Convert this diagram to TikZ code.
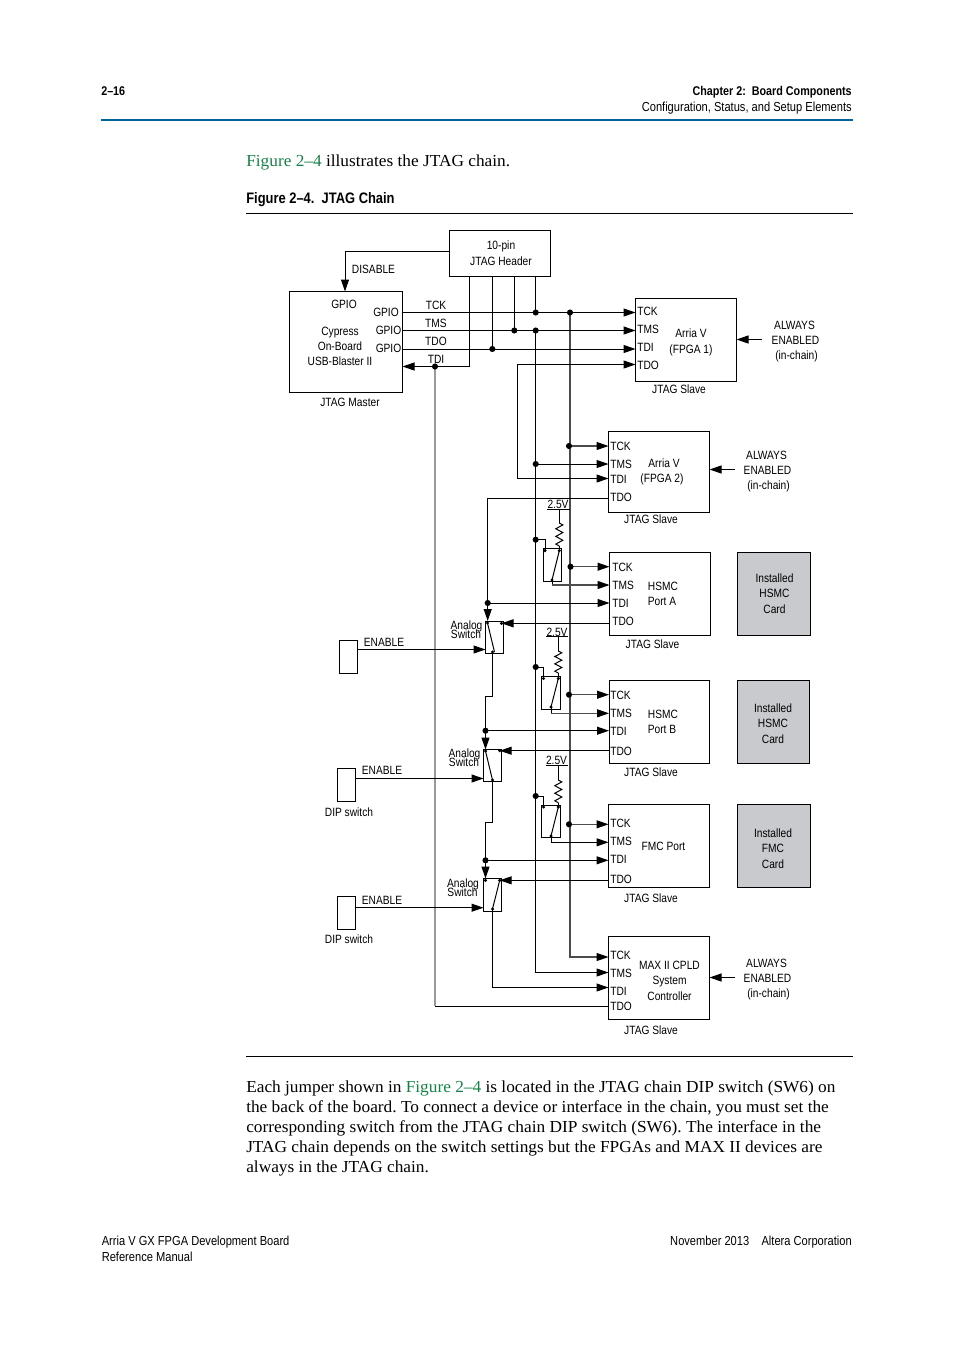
\documentclass[tikz,border=0pt]{standalone}
\usepackage{fontspec}
\setmainfont[FakeStretch=1.03]{Liberation Serif}
\setsansfont[FakeStretch=0.85]{Liberation Sans}
\usetikzlibrary{arrows.meta}
\definecolor{altblue}{RGB}{0,98,155}
\definecolor{altgreen}{RGB}{20,130,70}
\definecolor{cardgray}{RGB}{200,202,206}
\newcount\tcnt
\newcommand{\lb}[3]{\global\advance\tcnt by 1 \node[lab] (t\the\tcnt) at (#1,#2) {#3};}
\newcommand{\lbw}[3]{\global\advance\tcnt by 1 \node[lab,anchor=base west] (t\the\tcnt) at (#1,#2) {#3};}
\newcommand{\fw}[3]{\global\advance\tcnt by 1 \node[lab,anchor=base west,font=\sffamily\fontsize{9.8}{9.8}\selectfont] (t\the\tcnt) at (#1,#2) {#3};}
\newcommand{\fe}[3]{\global\advance\tcnt by 1 \node[lab,anchor=base east,font=\sffamily\fontsize{9.8}{9.8}\selectfont] (t\the\tcnt) at (#1,#2) {#3};}
\newcommand{\pg}[3]{\global\advance\tcnt by 1 \node[para] (t\the\tcnt) at (#1,#2) {\frenchspacing #3};}
\newcommand{\gbox}[6]{% style name x1 y1 x2 y2
  \pgfmathsetmacro{\bxw}{(#5-#3)*0.75}\pgfmathsetmacro{\bxh}{(#6-#4)*0.75}
  \node[#1,minimum width=\bxw pt,minimum height=\bxh pt] (#2) at ({(#3+#5)/2},{(#4+#6)/2}) {};}
\newcommand{\resist}[3]{% x y1 y2
  \pgfmathsetmacro{\zst}{(#3-#2)/6}
  \draw[wire] (#1,#2) -- ++(3.5,{0.5*\zst}) -- ++(-7,\zst) -- ++(7,\zst) -- ++(-7,\zst) -- ++(7,\zst) -- ++(-7,\zst) -- (#1,#3);}
\newcommand{\grn}[1]{\textcolor{altgreen}{#1}}
\tikzset{
  x=0.75pt,y=-0.75pt,
  lab/.style={font=\sffamily\fontsize{9}{9}\selectfont,inner sep=0pt,anchor=base},
  para/.style={font=\rmfamily\fontsize{12.6}{15}\selectfont,inner sep=0pt,anchor=base west},
  box/.style={draw=black,line width=0.75pt,inner sep=0pt,outer sep=0pt,fill=white},
  card/.style={box,fill=cardgray},
  wire/.style={line width=0.75pt,draw=black},
  gwire/.style={line width=0.8pt,draw=black!70},
  tdiw/.style={line width=1.6pt,draw=black!40},
  arr/.style={wire,-{Triangle[length=9pt,width=6pt,color=black]}},
  garr/.style={gwire,-{Triangle[length=9pt,width=6pt,color=black]}},
  jd/.style={circle,fill=black,inner sep=0pt,minimum size=4.6pt},
  sd/.style={circle,fill=black,inner sep=0pt,minimum size=2.6pt},
}
\begin{document}
\begin{tikzpicture}
\useasboundingbox (0,0) rectangle (954,1350);
% page furniture
\node[lab,anchor=base west,font=\sffamily\bfseries\fontsize{9.5}{9.5}\selectfont] (pageno) at (101,95) {2–16};
\node[lab,anchor=base east,font=\sffamily\bfseries\fontsize{9.5}{9.5}\selectfont] (chap) at (852,95) {Chapter 2:\ \ Board Components};
\fe{852}{111}{Configuration, Status, and Setup Elements}
\coordinate (rl) at (101,120); \coordinate (rr) at (853,120);
\draw[altblue,line width=1.5pt] (rl) -- (rr);
\pg{246}{166}{\grn{Figure 2–4} illustrates the JTAG chain.}
\node[lab,anchor=base west,font=\sffamily\bfseries\fontsize{11.4}{11.4}\selectfont] (figt) at (246,203) {Figure 2–4.\ \ JTAG Chain};
\coordinate (r2l) at (246,213.5); \coordinate (r2r) at (853,213.5);
\draw[wire] (r2l) -- (r2r);
\coordinate (r3l) at (246,1056.5); \coordinate (r3r) at (853,1056.5);
\draw[wire] (r3l) -- (r3r);
\pg{246}{1092}{Each jumper shown in \grn{Figure 2–4} is located in the JTAG chain DIP switch (SW6) on}
\pg{246}{1112}{the back of the board. To connect a device or interface in the chain, you must set the}
\pg{246}{1132}{corresponding switch from the JTAG chain DIP switch (SW6). The interface in the}
\pg{246}{1152}{JTAG chain depends on the switch settings but the FPGAs and MAX II devices are}
\pg{246}{1172}{always in the JTAG chain.}
\fw{101.5}{1245}{Arria V GX FPGA Development Board}
\fw{101.5}{1261}{Reference Manual}
\fe{852}{1245}{November 2013\ \ \ \ Altera Corporation}
% boxes
\gbox{box}{hdr}{449.5}{230.5}{550.5}{276.5}
\gbox{box}{mst}{289.5}{291.5}{402.5}{392.5}
\gbox{box}{s1}{635.5}{298.5}{736.5}{381.5}
\gbox{box}{s2}{608.5}{431.5}{709.5}{512}
\gbox{box}{s3}{609.5}{552.5}{710.5}{635.5}
\gbox{box}{s4}{609}{680.5}{709.5}{763.5}
\gbox{box}{s5}{608.5}{804.5}{709.5}{887.5}
\gbox{box}{s6}{608.5}{936.5}{709.5}{1019.5}
\gbox{card}{c3}{737.5}{552.5}{810.5}{635.5}
\gbox{card}{c4}{737}{680.5}{809.5}{763.5}
\gbox{card}{c5}{737}{804.5}{810}{887.5}
\gbox{box}{en1}{339.5}{640.5}{357.5}{673.5}
\gbox{box}{en2}{337.5}{768.5}{355.5}{801.5}
\gbox{box}{en3}{337.5}{896.5}{355.5}{929.5}
\gbox{box}{sa1}{485.5}{621}{503.5}{653.5}
\gbox{box}{sa2}{483.5}{749.5}{501.5}{781}
\gbox{box}{sa3}{483.5}{878.5}{501.5}{911.5}
% key points
\coordinate (tck) at (535.7,312.5);
\coordinate (tcky) at (570,312.5);
\coordinate (tms) at (535.7,330.5);
\coordinate (tmsh) at (514.3,330.5);
\coordinate (tdoh) at (492.3,349);
\coordinate (tdi) at (469.3,366.5);
\coordinate (tdid) at (435,366.5);
\coordinate (hA) at (469.3,276.5); \coordinate (hB) at (492.3,276.5);
\coordinate (hC) at (514.3,276.5); \coordinate (hD) at (535.7,276.5);
\coordinate (dis) at (345,251.5);
% gray buses first
\coordinate (g1b) at (435,1006);
\draw[tdiw] (tdid) -- (g1b);
\coordinate (g2b) at (570,957);
\draw[garr] (tcky) -- (g2b) -- (s6.west |- g2b);
% header
\draw[wire] (hdr.west |- dis) -- (dis);
\draw[arr] (dis) -- (dis |- mst.north);
\draw[wire] (hA) -- (tdi);
\draw[wire] (hB) -- (tdoh);
\draw[wire] (hC) -- (tmsh);
\draw[wire] (hD) -- (tck);
% master lines
\draw[arr] (mst.east |- tck) -- (s1.west |- tck);
\draw[arr] (mst.east |- tms) -- (s1.west |- tms);
\draw[arr] (mst.east |- tdoh) -- (s1.west |- tdoh);
\draw[arr] (tdi) -- (mst.east |- tdi);
% TMS bus
\coordinate (tmsb) at (535.7,972.5);
\draw[arr] (tms) -- (tmsb) -- (s6.west |- tmsb);
% S1 TDO to S2 TDI
\coordinate (a1) at (517.3,364.5); \coordinate (a2) at (517.3,478.5);
\draw[arr] (a2) -- (s2.west |- a2);
\draw[wire] (a2) -- (a1);
\draw[arr] (a1) -- (s1.west |- a1);
% S2
\coordinate (s2tck) at (569,446); \coordinate (s2tms) at (535.7,464);
\draw[garr] (s2tck) -- (s2.west |- s2tck);
\draw[arr] (s2tms) -- (s2.west |- s2tms);
\coordinate (s2tdo) at (487.7,498.5); \coordinate (d3) at (487.7,603);
\draw[wire] (s2.west |- s2tdo) -- (s2tdo) -- (d3);
\draw[arr] (d3) -- (d3 |- sa1.north);
\draw[arr] (d3) -- (s3.west |- d3);
% switch boxes, drawn above the buses
\gbox{box}{sw1}{543.5}{548.5}{561.5}{581.5}
\gbox{box}{sw2}{541.5}{676.5}{560.5}{709.5}
\gbox{box}{sw3}{541.5}{805.5}{560.5}{837.5}
% resistor+switch 1
\coordinate (v1a) at (547,509.5); \coordinate (v1b) at (569.5,509.5);
\draw[wire] (v1a) -- (v1b);
\coordinate (v1s) at (559.3,509.5); \coordinate (v1t) at (559.3,523);
\draw[wire] (v1s) -- (v1t); \resist{559.3}{523}{546}
\coordinate (r1b) at (559.3,546); \coordinate (p1a) at (559.3,550.7);
\draw[wire] (r1b) -- (p1a);
\coordinate (j1) at (535.7,539.7); \coordinate (j1c) at (545,539.7); \coordinate (j1d) at (545,550.7);
\draw[wire] (j1) -- (j1c) -- (j1d);
\coordinate (p1b) at (552,580); \draw[wire] (p1a) -- (p1b);
\coordinate (p1c) at (552,585);
\draw[wire] (p1b) -- (p1c); \draw[garr] (p1c) -- (s3.west |- p1c);
\coordinate (s3tck) at (570.5,566.7);
\draw[garr] (s3tck) -- (s3.west |- s3tck);
\coordinate (s3tdo) at (501.5,623.3);
\draw[arr] (s3.west |- s3tdo) -- (s3tdo);
\coordinate (e1) at (357.5,649.5); \draw[arr] (en1.east |- e1) -- (sa1.west |- e1);
\coordinate (a1a) at (487.5,623); \coordinate (a1b) at (494.5,652);
\draw[wire] (a1a) -- (a1b);
\coordinate (o1a) at (492.5,652); \coordinate (o1b) at (492.5,696); \coordinate (o1c) at (485.5,696); \coordinate (d4) at (485.5,730.7);
\draw[wire] (o1a) -- (o1b) -- (o1c) -- (d4);
\draw[arr] (d4) -- (d4 |- sa2.north);
\draw[arr] (d4) -- (s4.west |- d4);
% resistor+switch 2
\coordinate (v2a) at (546,636.5); \coordinate (v2b) at (568,636.5);
\draw[wire] (v2a) -- (v2b);
\coordinate (v2s) at (558.3,636.5); \coordinate (v2t) at (558.3,651);
\draw[wire] (v2s) -- (v2t); \resist{558.3}{651}{673}
\coordinate (r2b) at (558.3,673); \coordinate (p2a) at (558.3,678.5);
\draw[wire] (r2b) -- (p2a);
\coordinate (j2) at (535.7,667); \coordinate (j2c) at (543.5,667); \coordinate (j2d) at (543.5,678.5);
\draw[wire] (j2) -- (j2c) -- (j2d);
\coordinate (p2b) at (551,707); \draw[wire] (p2a) -- (p2b);
\coordinate (p2c) at (551,713.3);
\draw[wire] (p2b) -- (p2c); \draw[garr] (p2c) -- (s4.west |- p2c);
\coordinate (s4tck) at (569,694.7);
\draw[garr] (s4tck) -- (s4.west |- s4tck);
\coordinate (s4tdo) at (499.7,750.7);
\draw[arr] (s4.west |- s4tdo) -- (s4tdo);
\coordinate (e2) at (355.5,778.5); \draw[arr] (en2.east |- e2) -- (sa2.west |- e2);
\coordinate (a2a) at (485.5,751); \coordinate (a2b) at (492.5,780);
\draw[wire] (a2a) -- (a2b);
\coordinate (o2a) at (492.5,780); \coordinate (o2b) at (492.5,822.3); \coordinate (o2c) at (485.5,822.3); \coordinate (d5) at (485.5,860.3);
\draw[wire] (o2a) -- (o2b) -- (o2c) -- (d5);
\draw[arr] (d5) -- (d5 |- sa3.north);
\draw[arr] (d5) -- (s5.west |- d5);
% resistor+switch 3
\coordinate (v3a) at (545.5,765.5); \coordinate (v3b) at (568,765.5);
\draw[wire] (v3a) -- (v3b);
\coordinate (v3s) at (558.3,765.5); \coordinate (v3t) at (558.3,780);
\draw[wire] (v3s) -- (v3t); \resist{558.3}{780}{802.7}
\coordinate (r3b) at (558.3,802.7); \coordinate (p3a) at (558.3,807);
\draw[wire] (r3b) -- (p3a);
\coordinate (j3) at (535.7,796); \coordinate (j3c) at (543.5,796); \coordinate (j3d) at (543.5,807);
\draw[wire] (j3) -- (j3c) -- (j3d);
\coordinate (p3b) at (551,836); \draw[wire] (p3a) -- (p3b);
\coordinate (p3c) at (551,842.3);
\draw[wire] (p3b) -- (p3c); \draw[arr] (p3c) -- (s5.west |- p3c);
\coordinate (s5tck) at (569,824.3);
\draw[garr] (s5tck) -- (s5.west |- s5tck);
\coordinate (s5tdo) at (499.7,880.3);
\draw[arr] (s5.west |- s5tdo) -- (s5tdo);
\coordinate (e3) at (355.5,907.7); \draw[arr] (en3.east |- e3) -- (sa3.west |- e3);
\coordinate (a3a) at (499.7,880.3); \coordinate (a3b) at (492.5,909);
\draw[wire] (a3a) -- (a3b);
\coordinate (o3b) at (492.5,987.5);
\draw[arr] (a3b) -- (o3b) -- (s6.west |- o3b);
\draw[wire] (g1b) -- (s6.west |- g1b);
% arrows from notes
\coordinate (n1) at (762,339.5); \draw[arr] (n1) -- (s1.east |- n1);
\coordinate (n2) at (735,469.5); \draw[arr] (n2) -- (s2.east |- n2);
\coordinate (n6) at (735,977.5); \draw[arr] (n6) -- (s6.east |- n6);
% dots
\foreach \p in {tck,tcky,tms,tmsh,tdoh,tdid,s2tck,s2tms,d3,j1,s3tck,d4,j2,s4tck,d5,j3,s5tck}
  \node[jd] (dot\p) at (\p) {};
\foreach \p in {p1a,j1d,p1b,s3tdo,a1a,o1a,p2a,j2d,p2b,s4tdo,a2a,o2a,p3a,j3d,p3b,s5tdo,a3b}
  \node[sd] (sm\p) at (\p) {};
\coordinate (a3d) at (485.5,880.3); \node[sd] (sma3d) at (a3d) {};
% labels
\lb{501}{249}{10-pin}\lb{501}{265}{JTAG Header}\lb{373.5}{273}{DISABLE}
\lb{344}{308}{GPIO}\lb{386}{316}{GPIO}\lb{388.5}{334}{GPIO}\lb{388.5}{352}{GPIO}
\lb{340}{335}{Cypress}\lb{340}{350}{On-Board}\lb{340}{365}{USB-Blaster II}\lb{350}{406}{JTAG Master}
\lb{436}{309}{TCK}\lb{436}{327}{TMS}\lb{436}{345}{TDO}\lb{436}{363}{TDI}
\lbw{637}{315}{TCK}\lbw{637}{333}{TMS}\lbw{637}{351}{TDI}\lbw{637}{369}{TDO}
\lb{691}{337}{Arria V}\lb{691}{353}{(FPGA 1)}\lb{679}{393}{JTAG Slave}
\lb{794.5}{329}{ALWAYS}\lb{795.5}{344}{ENABLED}\lb{796.5}{359}{(in-chain)}
\lbw{610}{450}{TCK}\lbw{610}{468}{TMS}\lbw{610}{483}{TDI}\lbw{610}{501}{TDO}
\lb{664}{467}{Arria V}\lb{662}{482}{(FPGA 2)}\lb{651}{523}{JTAG Slave}
\lb{766.5}{459}{ALWAYS}\lb{767.5}{474}{ENABLED}\lb{768.5}{489}{(in-chain)}
\lbw{612}{571}{TCK}\lbw{612}{589}{TMS}\lbw{612}{607}{TDI}\lbw{612}{625}{TDO}
\lb{663}{590}{HSMC}\lb{662}{605}{Port A}\lb{652.5}{648}{JTAG Slave}
\lb{774.5}{582}{Installed}\lb{774.5}{597}{HSMC}\lb{774.5}{613}{Card}
\lbw{610}{699}{TCK}\lbw{610}{717}{TMS}\lbw{610}{735}{TDI}\lbw{610}{755}{TDO}
\lb{663}{718}{HSMC}\lb{662}{733}{Port B}\lb{651}{776}{JTAG Slave}
\lb{773}{712}{Installed}\lb{773}{727}{HSMC}\lb{773}{743}{Card}
\lbw{610}{827}{TCK}\lbw{610}{845}{TMS}\lbw{610}{863}{TDI}\lbw{610}{883}{TDO}
\lb{663.5}{850}{FMC Port}\lb{651}{902}{JTAG Slave}
\lb{773}{837}{Installed}\lb{773}{852}{FMC}\lb{773}{868}{Card}
\lbw{610}{959}{TCK}\lbw{610}{977}{TMS}\lbw{610}{995}{TDI}\lbw{610}{1010}{TDO}
\lb{669.5}{969}{MAX II CPLD}\lb{669.5}{984}{System}\lb{669.5}{1000}{Controller}\lb{651}{1034}{JTAG Slave}
\lb{766.5}{967}{ALWAYS}\lb{767.5}{982}{ENABLED}\lb{768.5}{997}{(in-chain)}
\lb{384}{646}{ENABLE}\lb{382}{774}{ENABLE}\lb{382}{904}{ENABLE}
\lb{349}{816}{DIP switch}\lb{349}{943}{DIP switch}
\lb{466.5}{629}{Analog}\lb{466}{638}{Switch}
\lb{464.5}{757}{Analog}\lb{464}{766}{Switch}
\lb{463}{887}{Analog}\lb{462.5}{896}{Switch}
\lb{558}{508}{2.5V}\lb{557}{636}{2.5V}\lb{556.5}{764}{2.5V}
\end{tikzpicture}
\end{document}
